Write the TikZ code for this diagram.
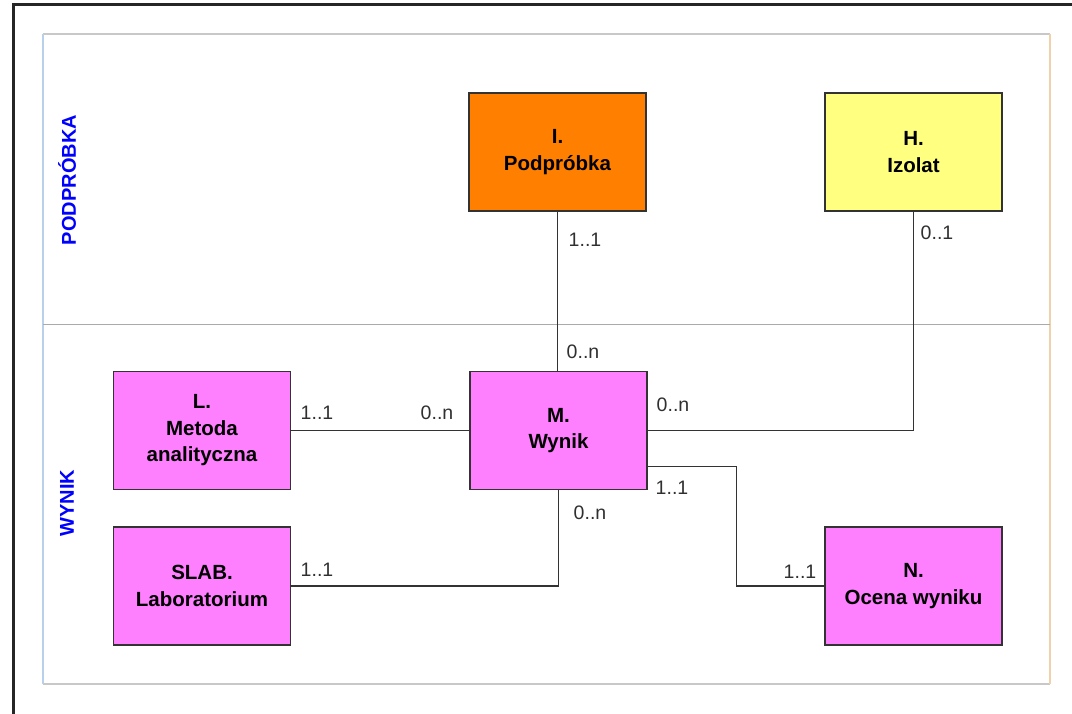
\documentclass[tikz,border=0pt]{standalone}
\usepackage{fontspec}
\setmainfont{Liberation Sans}
\definecolor{entorange}{HTML}{FF8000}
\definecolor{entyellow}{HTML}{FFFF80}
\definecolor{entpink}{HTML}{FF80FF}
\definecolor{boxline}{HTML}{333333}
\definecolor{panelgray}{HTML}{C8C8C8}
\definecolor{panelblue}{HTML}{B8D0EA}
\definecolor{paneltan}{HTML}{F0D2AA}
\definecolor{lanetext}{HTML}{0000FF}
\definecolor{cardtext}{HTML}{303030}
\begin{document}
\begin{tikzpicture}[x=1pt,y=-1pt,
  entity/.style={draw=boxline, line width=1.4pt, align=center, inner sep=0pt,
    font=\fontsize{20.5}{26.5}\selectfont\bfseries, text=black},
  wide/.style={minimum width=177pt, minimum height=118pt},
  link/.style={draw=boxline, line width=1.3pt},
  card/.style={font=\fontsize{19.5}{20}\selectfont, text=cardtext, inner sep=0pt},
  lane/.style={rotate=90, font=\fontsize{20}{20}\selectfont\bfseries, text=lanetext, inner sep=0pt}]
\useasboundingbox (0,0) rectangle (1072,713);
\fill[white] (0,0) rectangle (1072,713);

% outer frame
\draw[line width=2.2pt, black!85] (13.5,720) -- (13.5,4.5) -- (1080,4.5);

% swimlane panel
\draw[panelgray, line width=1.2pt] (43,34) -- (1050,34);
\draw[panelgray, line width=1.2pt] (43,684) -- (1050,684);
\draw[panelblue, line width=1.2pt] (43,34) -- (43,684);
\draw[paneltan, line width=1.2pt] (1050,34) -- (1050,684);
\draw[panelgray!85!black, line width=1pt] (43,324) -- (1050,324);

\node[lane] (lanePod) at (67,180) {PODPRÓBKA};
\node[lane] (laneWyn) at (67,503) {WYNIK};

% entities
\node[entity, wide, fill=entorange] (I) at (557.5,152) {I.\\Podpróbka};
\node[entity, wide, fill=entyellow] (H) at (913.5,152) {H.\\Izolat};
\node[entity, wide, fill=entpink] (L) at (202,430.5) {L.\\Metoda\\analityczna};
\node[entity, wide, fill=entpink] (M) at (558.5,430.5) {M.\\Wynik};
\node[entity, wide, fill=entpink] (S) at (202,586) {SLAB.\\Laboratorium};
\node[entity, wide, fill=entpink] (N) at (913.5,586) {N.\\Ocena wyniku};

% relationships
\draw[link] (I.south) -- (I.south |- M.north);
\draw[link] (H.south) |- (M.east);
\draw[link] (L.east) -- (M.west);
\draw[link] (S.east) -| (M.south);
\draw[link] ([yshift=24pt]M.south east) -- ++(89,0) |- (N.west);

% cardinalities
\node[card] (cIM1) at (585,240) {1..1};
\node[card] (cIM2) at (583,352) {0..n};
\node[card] (cHM1) at (937,233) {0..1};
\node[card] (cHM2) at (673,405) {0..n};
\node[card] (cLM1) at (317,413) {1..1};
\node[card] (cLM2) at (437,413) {0..n};
\node[card] (cSM1) at (317,570) {1..1};
\node[card] (cSM2) at (590,513) {0..n};
\node[card] (cMN1) at (672,488) {1..1};
\node[card] (cMN2) at (800,572) {1..1};
\end{tikzpicture}
\end{document}
